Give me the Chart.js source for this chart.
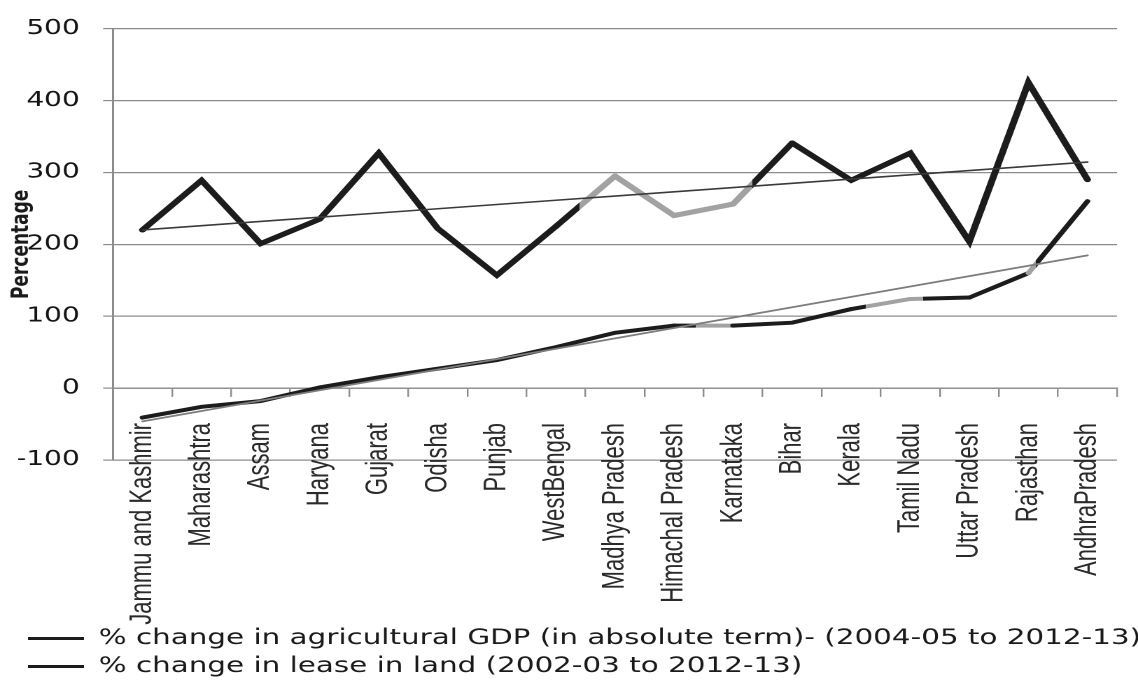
<!DOCTYPE html>
<html>
<head>
<meta charset="utf-8">
<title>Agricultural GDP and lease-in land, % change by state</title>
<script src="https://cdn.jsdelivr.net/npm/chart.js@4.4.1/dist/chart.umd.min.js"></script>
<style>
  html, body { margin: 0; padding: 0; background: #fff; overflow: hidden; }
  /* the figure is laid out on a narrower canvas and widened to the page width */
  #wrap { width: 813px; height: 680px; transform: scaleX(1.39975); transform-origin: 0 0; }
</style>
</head>
<body>
<div id="wrap"><canvas id="c" width="813" height="680"></canvas></div>
<script>
// ---- data ----
const states = ['Jammu and Kashmir', 'Maharashtra', 'Assam', 'Haryana', 'Gujarat', 'Odisha', 'Punjab',
  'WestBengal', 'Madhya Pradesh', 'Himachal Pradesh', 'Karnataka', 'Bihar', 'Kerala', 'Tamil Nadu',
  'Uttar Pradesh', 'Rajasthan', 'AndhraPradesh'];
const gdpChange   = [220, 289, 201, 235, 327, 222, 157, 225, 295, 240, 256, 341, 289, 327, 204, 425, 290];
const leaseChange = [-41, -26, -18, 1, 15, 27, 39, 57, 77, 87, 87, 91, 110, 124, 126, 160, 260];
const yTickValues = [-100, 0, 100, 200, 300, 400, 500];
const seriesLabels = [
  '% change in agricultural GDP (in absolute term)- (2004-05 to 2012-13)',
  '% change in lease in land (2002-03 to 2012-13)'
];
const yTitle = 'Percentage';

// ---- styling ----
const INK = '#1c1c1c';
const PALE = '#a2a2a2';
const GRID = '#8c8c8c';
// faded stretches of each line: segment index -> [from, to] fraction along the segment
const gdpPale = { 7: [0.4, 1], 8: [0, 1], 9: [0, 1], 10: [0, 0.33] };
const leasePale = { 9: [0.37, 1], 12: [0.24, 1], 13: [0, 0.22], 15: [0, 0.12] };

const canvas = document.getElementById('c');
const ctx2d = canvas.getContext('2d');

// least-squares straight line through a series (linear trendline)
function linearTrend(values) {
  const n = values.length, mx = (n - 1) / 2;
  const my = values.reduce((a, b) => a + b, 0) / n;
  let sxy = 0, sxx = 0;
  values.forEach((v, i) => { sxy += (i - mx) * (v - my); sxx += (i - mx) * (i - mx); });
  const k = sxy / sxx;
  return values.map((_, i) => my + k * (i - mx));
}

function paleSegment(spans) {
  return c => {
    const s = spans[c.p0DataIndex];
    if (!s) return undefined;
    if (s[0] <= 0 && s[1] >= 1) return PALE;
    const g = ctx2d.createLinearGradient(c.p0.x, 0, c.p1.x, 0);
    g.addColorStop(0, s[0] > 0 ? INK : PALE);
    if (s[0] > 0) { g.addColorStop(s[0], INK); g.addColorStop(s[0], PALE); }
    if (s[1] < 1) { g.addColorStop(s[1], PALE); g.addColorStop(s[1], INK); }
    g.addColorStop(1, s[1] < 1 ? INK : PALE);
    return g;
  };
}

const lineBase = { fill: false, tension: 0, pointRadius: 0, pointHoverRadius: 0,
  borderJoinStyle: 'miter', borderCapStyle: 'round' };

new Chart(canvas, {
  type: 'line',
  data: {
    labels: states,
    datasets: [
      { ...lineBase, label: 'gdp-trend', trend: true, data: linearTrend(gdpChange),
        borderColor: '#3a3a3a', borderWidth: 1.6, order: 0 },
      { ...lineBase, label: 'lease-trend', trend: true, data: linearTrend(leaseChange),
        borderColor: '#7d7d7d', borderWidth: 1.8, order: 0 },
      { ...lineBase, label: seriesLabels[0], data: gdpChange,
        borderColor: INK, borderWidth: 5, order: 1,
        segment: { borderColor: paleSegment(gdpPale) } },
      { ...lineBase, label: seriesLabels[1], data: leaseChange,
        borderColor: INK, borderWidth: 4, order: 1,
        segment: { borderColor: paleSegment(leasePale) } }
    ]
  },
  options: {
    responsive: false,
    devicePixelRatio: 2,
    animation: false,
    events: [],
    layout: { padding: { left: 13, right: 0, top: 24, bottom: -7 } },
    scales: {
      // bottom band that holds the state names
      x: {
        type: 'category',
        position: 'bottom',
        offset: true,
        grid: { display: false, offset: true },
        border: { display: false },
        ticks: { display: false },
        afterFit: s => { s.height = 161; }
      },
      // state names, hung from the -100 line
      xNames: {
        type: 'category',
        axis: 'x',
        position: { y: -100 },
        offset: true,
        grid: { display: false, offset: true },
        border: { display: false },
        ticks: {
          autoSkip: false, minRotation: 90, maxRotation: 90, padding: -45,
          color: '#2a2a2a', font: { family: 'Liberation Sans, Arial, sans-serif', size: 22 }
        }
      },
      // category axis line with tick marks along zero
      xZero: {
        type: 'category',
        axis: 'x',
        position: { y: 0 },
        offset: true,
        grid: { offset: true, drawOnChartArea: false, drawTicks: true, tickLength: 8, color: GRID, lineWidth: 1.2 },
        border: { display: true, color: GRID, width: 1.4 },
        ticks: { display: false }
      },
      y: {
        type: 'linear',
        min: yTickValues[0],
        max: yTickValues[yTickValues.length - 1],
        afterBuildTicks: s => { s.ticks = yTickValues.map(v => ({ value: v })); },
        grid: { color: GRID, lineWidth: 1.2, drawTicks: true, tickLength: 7 },
        border: { display: true, color: GRID, width: 1.5 },
        ticks: { padding: 16.7, color: '#141414', font: { family: 'DejaVu Sans, sans-serif', size: 20 } },
        title: {
          display: true, text: yTitle, color: '#1a1a1a',
          padding: { top: -7.5, bottom: 0 },
          font: { family: 'DejaVu Sans, sans-serif', size: 17, weight: 'bold' }
        },
        afterFit: s => { s.width = 67.7; }
      },
      // empty margin on the right of the plot
      yMargin: {
        type: 'linear',
        position: 'right',
        display: true,
        grid: { display: false },
        border: { display: false },
        ticks: { display: false },
        afterFit: s => { s.width = 15; }
      }
    },
    plugins: {
      tooltip: { enabled: false },
      legend: {
        display: true,
        position: 'bottom',
        align: 'start',
        labels: {
          usePointStyle: true,
          pointStyleWidth: 40,
          padding: 7,
          color: '#1a1a1a',
          font: { family: 'DejaVu Sans, sans-serif', size: 21 },
          generateLabels: chart => Chart.defaults.plugins.legend.labels.generateLabels(chart)
            .filter(item => !chart.data.datasets[item.datasetIndex].trend)
            .map(item => ({ ...item, pointStyle: 'line', lineWidth: 3, strokeStyle: INK, fillStyle: INK }))
        }
      }
    }
  }
});
</script>
</body>
</html>
